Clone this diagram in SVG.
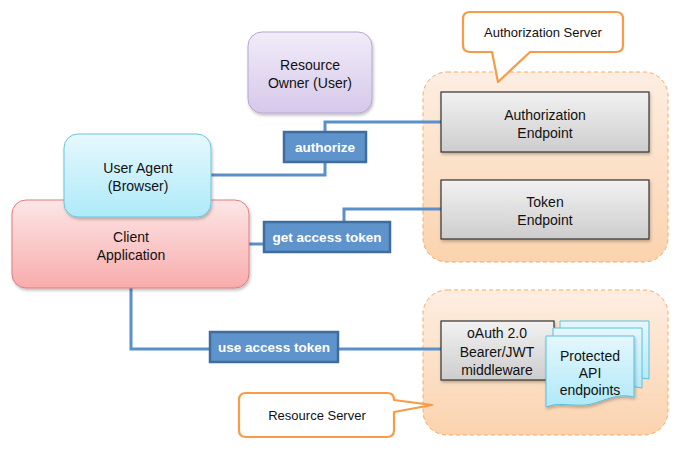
<svg xmlns="http://www.w3.org/2000/svg" width="684" height="453" viewBox="0 0 684 453">
<defs>
<linearGradient id="gPurple" x1="0" y1="0" x2="0" y2="1"><stop offset="0" stop-color="#f1ecf8"/><stop offset="1" stop-color="#d6c8ea"/></linearGradient>
<linearGradient id="gCyan" x1="0" y1="0" x2="0" y2="1"><stop offset="0" stop-color="#e6f8fd"/><stop offset="1" stop-color="#aeeaf9"/></linearGradient>
<linearGradient id="gPink" x1="0" y1="0" x2="0" y2="1"><stop offset="0" stop-color="#fde6e6"/><stop offset="1" stop-color="#f8acac"/></linearGradient>
<linearGradient id="gPeach" x1="0" y1="0" x2="0" y2="1"><stop offset="0" stop-color="#fdeee2"/><stop offset="1" stop-color="#fbd3ae"/></linearGradient>
<linearGradient id="gGray" x1="0" y1="0" x2="0" y2="1"><stop offset="0" stop-color="#f2f2f2"/><stop offset="1" stop-color="#cdcdcd"/></linearGradient>
<linearGradient id="gDoc" x1="0" y1="0" x2="0" y2="1"><stop offset="0" stop-color="#e4f7fd"/><stop offset="1" stop-color="#afe9f8"/></linearGradient>
<filter id="sh" x="-10%" y="-10%" width="130%" height="130%"><feDropShadow dx="1" dy="2" stdDeviation="1.5" flood-color="#000" flood-opacity="0.25"/></filter>
<style>
.t{font-family:"Liberation Sans",Arial,sans-serif;font-size:14px;fill:#111;text-anchor:middle}
.c{font-size:13px}
.lbl{font-family:"Liberation Sans",Arial,sans-serif;font-size:13.5px;fill:#fff;text-anchor:middle;font-weight:bold}
.lb{fill:#5f93cb;stroke:#3f6e9e;stroke-width:2.5}
.con{fill:none;stroke:#5b8fc9;stroke-width:3}
.box{fill:url(#gGray);stroke:#333;stroke-width:1.2}
.cont{fill:url(#gPeach);stroke:#f7a960;stroke-width:1;stroke-dasharray:4 3}
.call{fill:#fff;stroke:#f79b46;stroke-width:2.2;stroke-linejoin:round}
.doc{fill:url(#gDoc);stroke:#5bc0de;stroke-width:1}
</style>
</defs>

<g id="auth-server-container"><rect class="cont" x="423" y="72" width="245" height="190" rx="24"/></g>
<g id="resource-server-container"><rect class="cont" x="423" y="290" width="245" height="145" rx="24"/></g>

<g id="connectors">
<polyline class="con" points="441,122 325,122 325,175 211,175"/>
<polyline class="con" points="441,209 344,209 344,222"/>
<polyline class="con" points="264,244 249,244"/>
<polyline class="con" points="131,288 131,349 210,349"/>
<polyline class="con" points="338,349 441,349"/>
</g>

<g id="resource-owner"><rect x="248" y="32" width="124" height="81" rx="14" fill="url(#gPurple)" stroke="#b7a6cf" stroke-width="1" filter="url(#sh)"/>
<text class="t" x="310" y="70">Resource</text><text class="t" x="310" y="88">Owner (User)</text></g>

<g id="client-application"><rect x="12" y="200" width="237" height="88" rx="14" fill="url(#gPink)" stroke="#d9807e" stroke-width="1" filter="url(#sh)"/>
<text class="t" x="131" y="242">Client</text><text class="t" x="131" y="260">Application</text></g>

<g id="user-agent"><rect x="64" y="134" width="147" height="83" rx="14" fill="url(#gCyan)" stroke="#6cc4dc" stroke-width="1" filter="url(#sh)"/>
<text class="t" x="138" y="173">User Agent</text><text class="t" x="138" y="191">(Browser)</text></g>

<g id="authorize-label"><rect class="lb" x="284" y="132" width="82" height="30"/><text class="lbl" x="325" y="152">authorize</text></g>
<g id="get-access-token-label"><rect class="lb" x="264" y="222" width="126" height="30"/><text class="lbl" x="327" y="242">get access token</text></g>
<g id="use-access-token-label"><rect class="lb" x="210" y="332" width="128" height="30"/><text class="lbl" x="274" y="352">use access token</text></g>

<g id="authorization-endpoint"><rect class="box" x="441" y="92" width="208" height="60" filter="url(#sh)"/>
<text class="t" x="545" y="120">Authorization</text><text class="t" x="545" y="138">Endpoint</text></g>

<g id="token-endpoint"><rect class="box" x="441" y="180" width="208" height="59" filter="url(#sh)"/>
<text class="t" x="545" y="207">Token</text><text class="t" x="545" y="225">Endpoint</text></g>

<g id="middleware"><rect class="box" x="441" y="321" width="113" height="59" filter="url(#sh)"/>
<text class="t" x="497" y="338">oAuth 2.0</text><text class="t" x="497" y="357">Bearer/JWT</text><text class="t" x="497" y="375">middleware</text></g>

<g id="protected-api">
<path class="doc" d="M560,321 H649 V379 C630,375 615,385 600,385 C585,385 572,378 560,380 Z"/>
<path class="doc" d="M553,328 H642 V388 C622,383 608,394 592,394 C576,394 565,386 553,389 Z"/>
<path class="doc" d="M546,336 H634 V397 C614,392 600,404 585,405 C570,406 558,402 546,407 Z" filter="url(#sh)"/>
<text class="t" x="590" y="361">Protected</text><text class="t" x="590" y="378">API</text><text class="t" x="590" y="395">endpoints</text>
</g>

<g id="authorization-server-callout">
<path class="call" d="M470,12 H616 Q623,12 623,19 V45 Q623,52 616,52 H530 L498,82 L492,52 H470 Q463,52 463,45 V19 Q463,12 470,12 Z"/>
<text class="t c" x="543" y="37">Authorization Server</text>
</g>

<g id="resource-server-callout">
<path class="call" d="M246,393 H387 Q394,393 394,400 L432,405 L394,412 V430 Q394,437 387,437 H246 Q239,437 239,430 V400 Q239,393 246,393 Z"/>
<text class="t c" x="317" y="420">Resource Server</text>
</g>
</svg>
